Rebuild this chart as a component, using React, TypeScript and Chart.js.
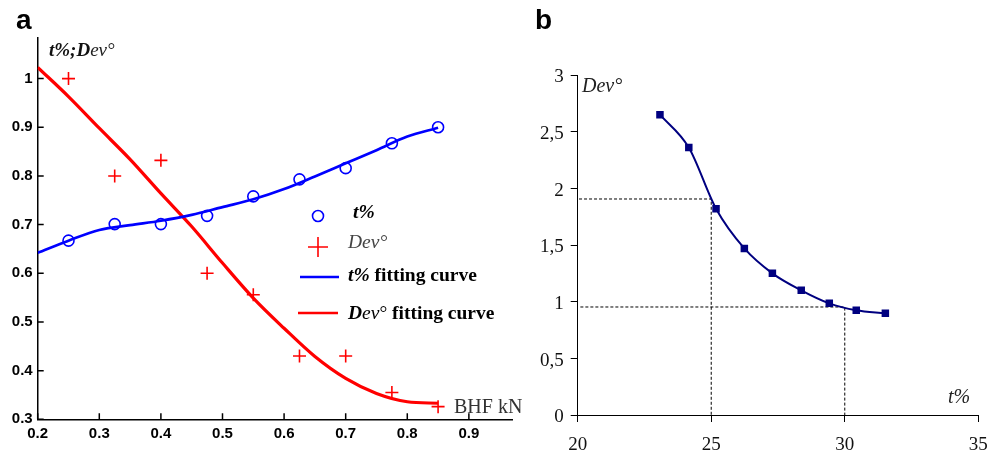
import React, { useEffect, useRef } from 'react';
import { Chart, registerables } from 'chart.js';

Chart.register(...registerables);

// ---------- Panel a data ----------
const bhfLoads = [0.25, 0.325, 0.4, 0.475, 0.55, 0.625, 0.7, 0.775, 0.85];
const thinningScaled = [0.667, 0.701, 0.701, 0.718, 0.758, 0.793, 0.816, 0.867, 0.9];
const deviationScaled = [1.0, 0.8, 0.832, 0.6, 0.556, 0.43, 0.43, 0.355, 0.326];
const fitLoads = [0.2, 0.25, 0.3, 0.35, 0.4, 0.45, 0.5, 0.55, 0.6, 0.65, 0.7, 0.75, 0.8, 0.85];
const thinningFit = [0.642, 0.667, 0.689, 0.699, 0.708, 0.72, 0.736, 0.752, 0.773, 0.799, 0.826, 0.853, 0.881, 0.899];
const deviationFit = [1.023, 0.963, 0.898, 0.834, 0.764, 0.696, 0.621, 0.549, 0.487, 0.429, 0.384, 0.353, 0.336, 0.333];
const xTicksA = [0.2, 0.3, 0.4, 0.5, 0.6, 0.7, 0.8, 0.9];
const yTicksA = [0.3, 0.4, 0.5, 0.6, 0.7, 0.8, 0.9, 1];

// ---------- Panel b data ----------
const thinningB = [23.08, 24.16, 25.18, 26.24, 27.29, 28.37, 29.42, 30.43, 31.52];
const deviationB = [2.65, 2.36, 1.82, 1.47, 1.25, 1.1, 0.985, 0.924, 0.897];
const guideUpperT = [20.05, 25, 25];
const guideUpperDev = [1.906, 1.906, 0];
const guideLowerT = [20.1, 30, 30];
const guideLowerDev = [0.953, 0.953, 0];
const xTicksB = [20, 25, 30, 35];
const yTicksB = [0, 0.5, 1, 1.5, 2, 2.5, 3];

const pts = (xs: number[], ys: number[]) => xs.map((x, i) => ({ x, y: ys[i] }));

const SERIF = '"Liberation Serif"';
const SANS = '"Liberation Sans"';

type Run = { text: string; font: string; color: string };
function drawRuns(ctx: CanvasRenderingContext2D, x: number, y: number, runs: Run[]) {
  let cx = x;
  ctx.textBaseline = 'alphabetic';
  ctx.textAlign = 'left';
  for (const r of runs) {
    ctx.font = r.font;
    ctx.fillStyle = r.color;
    ctx.fillText(r.text, cx, y);
    cx += ctx.measureText(r.text).width;
  }
}

const annotationsA = {
  id: 'annotationsA',
  afterDraw(chart: any) {
    const ctx: CanvasRenderingContext2D = chart.ctx;
    const xs = chart.scales.x;
    const ys = chart.scales.y;
    const { left, bottom } = chart.chartArea;
    ctx.save();
    // inward ticks
    ctx.strokeStyle = '#000';
    ctx.lineWidth = 1.5;
    ctx.beginPath();
    for (const v of xTicksA) {
      const px = xs.getPixelForValue(v);
      ctx.moveTo(px, bottom);
      ctx.lineTo(px, bottom - 6);
    }
    for (const v of yTicksA) {
      const py = ys.getPixelForValue(v);
      ctx.moveTo(left, py);
      ctx.lineTo(left + 6, py);
    }
    ctx.stroke();

    // panel letter
    drawRuns(ctx, 16, 29, [{ text: 'a', font: `bold 28px ${SANS}`, color: '#000' }]);
    // y axis title
    drawRuns(ctx, 49, 56, [
      { text: 't%;D', font: `italic bold 19px ${SERIF}`, color: '#111' },
      { text: 'ev°', font: `italic 19px ${SERIF}`, color: '#222' },
    ]);
    // x axis title
    drawRuns(ctx, 454, 413, [{ text: 'BHF kN', font: `20px ${SERIF}`, color: '#333' }]);

    // legend
    const fs = 19.5;
    ctx.lineWidth = 1.6;
    ctx.strokeStyle = '#0000ff';
    ctx.beginPath();
    ctx.arc(318, 216, 5.5, 0, Math.PI * 2);
    ctx.stroke();
    drawRuns(ctx, 353, 218, [{ text: 't%', font: `italic bold ${fs}px ${SERIF}`, color: '#000' }]);

    ctx.strokeStyle = '#ff0000';
    ctx.lineWidth = 1.6;
    ctx.beginPath();
    ctx.moveTo(308, 247);
    ctx.lineTo(328, 247);
    ctx.moveTo(318, 237);
    ctx.lineTo(318, 257);
    ctx.stroke();
    drawRuns(ctx, 348, 248, [{ text: 'Dev°', font: `italic ${fs}px ${SERIF}`, color: '#444' }]);

    ctx.lineWidth = 2.5;
    ctx.strokeStyle = '#0000ff';
    ctx.beginPath();
    ctx.moveTo(300, 277);
    ctx.lineTo(339, 277);
    ctx.stroke();
    drawRuns(ctx, 348, 281, [
      { text: 't%', font: `italic bold ${fs}px ${SERIF}`, color: '#000' },
      { text: ' fitting curve', font: `bold ${fs}px ${SERIF}`, color: '#000' },
    ]);

    ctx.strokeStyle = '#ff0000';
    ctx.beginPath();
    ctx.moveTo(298, 313);
    ctx.lineTo(338, 313);
    ctx.stroke();
    drawRuns(ctx, 348, 319, [
      { text: 'D', font: `italic bold ${fs}px ${SERIF}`, color: '#000' },
      { text: 'ev', font: `italic ${fs}px ${SERIF}`, color: '#000' },
      { text: '°', font: `${fs}px ${SERIF}`, color: '#000' },
      { text: ' fitting curve', font: `bold ${fs}px ${SERIF}`, color: '#000' },
    ]);
    ctx.restore();
  },
};

const annotationsB = {
  id: 'annotationsB',
  afterDraw(chart: any) {
    const ctx: CanvasRenderingContext2D = chart.ctx;
    ctx.save();
    drawRuns(ctx, 10, 29, [{ text: 'b', font: `bold 28px ${SANS}`, color: '#000' }]);
    drawRuns(ctx, 57, 92, [{ text: 'Dev°', font: `italic 20px ${SERIF}`, color: '#222' }]);
    drawRuns(ctx, 423, 403, [{ text: 't%', font: `italic 20px ${SERIF}`, color: '#222' }]);
    ctx.restore();
  },
};

function ChartA() {
  const ref = useRef<HTMLCanvasElement>(null);
  useEffect(() => {
    if (!ref.current) return;
    const chart = new Chart(ref.current, {
      type: 'line',
      data: {
        datasets: [
          {
            label: 't%',
            data: pts(bhfLoads, thinningScaled),
            showLine: false,
            pointStyle: 'circle',
            pointRadius: 5.5,
            pointBorderWidth: 1.6,
            pointBorderColor: '#0000ff',
            pointBackgroundColor: 'rgba(0,0,0,0)',
            borderColor: '#0000ff',
          },
          {
            label: 'Dev°',
            data: pts(bhfLoads, deviationScaled),
            showLine: false,
            pointStyle: 'cross',
            pointRadius: 6.5,
            pointBorderWidth: 1.6,
            pointBorderColor: '#ff0000',
            borderColor: '#ff0000',
          },
          {
            label: 't% fitting curve',
            data: pts(fitLoads, thinningFit),
            borderColor: '#0000ff',
            borderWidth: 2.7,
            pointRadius: 0,
            cubicInterpolationMode: 'monotone',
          },
          {
            label: 'Dev° fitting curve',
            data: pts(fitLoads, deviationFit),
            borderColor: '#ff0000',
            borderWidth: 3.2,
            pointRadius: 0,
            cubicInterpolationMode: 'monotone',
          },
        ],
      },
      options: {
        animation: false,
        responsive: false,
        maintainAspectRatio: false,
        layout: { padding: { left: 0, top: 37.7, right: 13, bottom: 0 } },
        plugins: { legend: { display: false }, tooltip: { enabled: false } },
        scales: {
          x: {
            type: 'linear',
            min: 0.2,
            max: 0.97,
            afterBuildTicks: (s: any) => {
              s.ticks = xTicksA.map((v) => ({ value: v }));
            },
            afterFit: (s: any) => {
              s.height = 458 - 419.3;
            },
            grid: { display: false, drawTicks: false },
            border: { display: true, color: '#000', width: 1.5 },
            ticks: {
              padding: 6,
              maxRotation: 0,
              autoSkip: false,
              color: '#000',
              font: { family: 'Liberation Sans', weight: 'bold', size: 15 },
              callback: (v: any) => Number(v).toFixed(1),
            },
          },
          y: {
            type: 'linear',
            min: 0.3,
            max: 1.084,
            afterBuildTicks: (s: any) => {
              s.ticks = yTicksA.map((v) => ({ value: v }));
            },
            afterFit: (s: any) => {
              s.width = 37.7;
            },
            grid: { display: false, drawTicks: false },
            border: { display: true, color: '#000', width: 1.5 },
            ticks: {
              padding: 5,
              autoSkip: false,
              color: '#000',
              font: { family: 'Liberation Sans', weight: 'bold', size: 15 },
              callback: (v: any) => (Number(v) === 1 ? '1' : Number(v).toFixed(1)),
            },
          },
        },
      } as any,
      plugins: [annotationsA],
    });
    return () => chart.destroy();
  }, []);
  return (
    <canvas
      ref={ref}
      width={525}
      height={458}
      style={{ position: 'absolute', left: 0, top: 0, width: 525, height: 458 }}
    />
  );
}

function ChartB() {
  const ref = useRef<HTMLCanvasElement>(null);
  useEffect(() => {
    if (!ref.current) return;
    const chart = new Chart(ref.current, {
      type: 'line',
      data: {
        datasets: [
          {
            label: 'Dev° vs t%',
            data: pts(thinningB, deviationB),
            borderColor: '#000080',
            borderWidth: 2,
            pointStyle: 'rect',
            pointRadius: 5.3,
            pointBackgroundColor: '#000080',
            pointBorderColor: '#000080',
            pointBorderWidth: 0,
            cubicInterpolationMode: 'monotone',
          },
          {
            label: 'guide upper',
            data: pts(guideUpperT, guideUpperDev),
            borderColor: '#000',
            borderWidth: 1,
            borderDash: [3, 2],
            pointRadius: 0,
          },
          {
            label: 'guide lower',
            data: pts(guideLowerT, guideLowerDev),
            borderColor: '#000',
            borderWidth: 1,
            borderDash: [3, 2],
            pointRadius: 0,
          },
        ],
      },
      options: {
        animation: false,
        responsive: false,
        maintainAspectRatio: false,
        layout: { padding: { left: 0, top: 75, right: 24.7, bottom: 0 } },
        plugins: { legend: { display: false }, tooltip: { enabled: false } },
        scales: {
          x: {
            type: 'linear',
            min: 20,
            max: 35,
            afterBuildTicks: (s: any) => {
              s.ticks = xTicksB.map((v) => ({ value: v }));
            },
            afterFit: (s: any) => {
              s.height = 43;
            },
            grid: { display: true, drawOnChartArea: false, drawTicks: true, tickLength: 7, color: '#000', lineWidth: 1 },
            border: { display: true, color: '#000', width: 1 },
            ticks: {
              padding: 12,
              maxRotation: 0,
              autoSkip: false,
              color: '#111',
              font: { family: 'Liberation Serif', size: 19 },
              callback: (v: any) => String(v),
            },
          },
          y: {
            type: 'linear',
            min: 0,
            max: 3,
            afterBuildTicks: (s: any) => {
              s.ticks = yTicksB.map((v) => ({ value: v }));
            },
            afterFit: (s: any) => {
              s.width = 52.7;
            },
            grid: { display: true, drawOnChartArea: false, drawTicks: true, tickLength: 7, color: '#000', lineWidth: 1 },
            border: { display: true, color: '#000', width: 1 },
            ticks: {
              padding: 7,
              labelOffset: 2.5,
              autoSkip: false,
              color: '#111',
              font: { family: 'Liberation Serif', size: 19 },
              callback: (v: any) => String(v).replace('.', ','),
            },
          },
        },
      } as any,
      plugins: [annotationsB],
    });
    return () => chart.destroy();
  }, []);
  return (
    <canvas
      ref={ref}
      width={478}
      height={458}
      style={{ position: 'absolute', left: 525, top: 0, width: 478, height: 458 }}
    />
  );
}

export default function App() {
  return (
    <div
      style={{
        position: 'fixed',
        left: 0,
        top: 0,
        width: 1003,
        height: 458,
        background: '#fff',
        overflow: 'hidden',
      }}
    >
      <ChartA />
      <ChartB />
    </div>
  );
}
